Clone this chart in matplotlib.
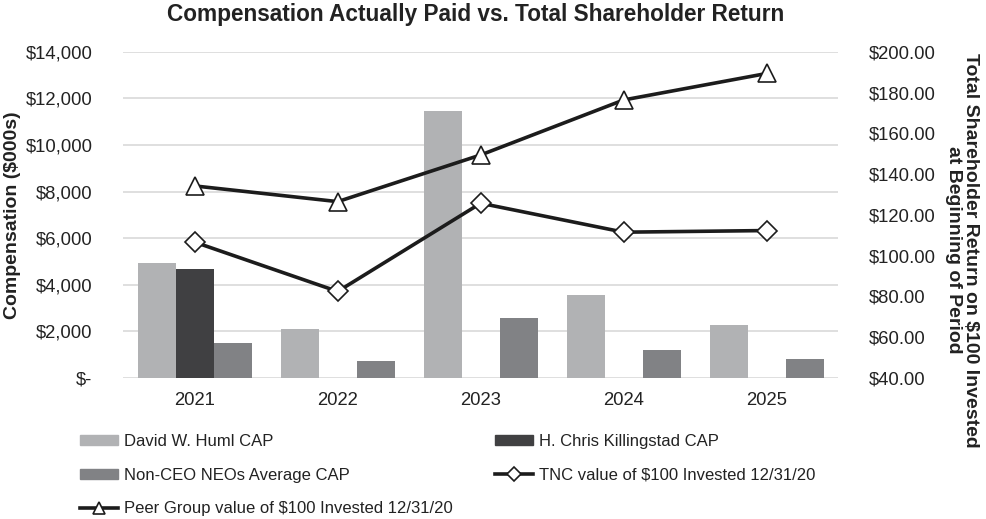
import matplotlib
matplotlib.use("Agg")
import matplotlib.pyplot as plt
import numpy as np
from matplotlib.patches import Patch
from matplotlib.lines import Line2D

plt.rcParams['font.family'] = ['Liberation Sans', 'DejaVu Sans']

years = ["2021", "2022", "2023", "2024", "2025"]
huml_cap = [4930, 2115, 11455, 3570, 2285]
killingstad_cap = [4670, 0, 0, 0, 0]
non_ceo_cap = [1500, 730, 2570, 1215, 815]
tnc_tsr = [106.6, 82.4, 125.7, 111.5, 112.3]
peer_tsr = [134.2, 126.5, 149.4, 176.4, 189.4]

left_ticks = [0, 2000, 4000, 6000, 8000, 10000, 12000, 14000]
left_labels = ["$-", "$2,000", "$4,000", "$6,000", "$8,000", "$10,000", "$12,000", "$14,000"]
right_ticks = [40, 60, 80, 100, 120, 140, 160, 180, 200]
right_labels = ["$%.2f" % v for v in right_ticks]

c_huml = "#b1b2b4"
c_kill = "#404042"
c_non = "#818285"
c_line = "#1c1c1c"
c_grid = "#d9d9d9"

fig = plt.figure(figsize=(9.86, 5.19), dpi=100)
ax = fig.add_axes([0.125, 0.272, 0.725, 0.628])
x = np.arange(len(years))
w = 0.266
ax.bar(x - w, huml_cap, w, color=c_huml, zorder=2)
ax.bar(x, killingstad_cap, w, color=c_kill, zorder=2)
ax.bar(x + w, non_ceo_cap, w, color=c_non, zorder=2)
ax.set_xlim(-0.5, 4.5)
ax.set_ylim(0, 14000)
ax.set_yticks(left_ticks)
ax.set_yticklabels(left_labels)
ax.set_xticks(x)
ax.set_xticklabels(years)
ax.yaxis.grid(True, color=c_grid, linewidth=1.2, zorder=0)
ax.set_axisbelow(True)
for s in ax.spines.values():
    s.set_visible(False)
ax.tick_params(axis='both', length=0, labelsize=13.3, colors="#222222")
ax.tick_params(axis='y', pad=22)
ax.tick_params(axis='x', pad=10)

ax2 = ax.twinx()
ax2.set_ylim(40, 200)
ax2.set_yticks(right_ticks)
ax2.set_yticklabels(right_labels)
for s in ax2.spines.values():
    s.set_visible(False)
ax2.tick_params(axis='y', length=0, labelsize=13.3, colors="#222222", pad=22)
ax2.plot(x, tnc_tsr, color=c_line, linewidth=2.6, marker='D', markersize=10,
         markerfacecolor='white', markeredgecolor=c_line, markeredgewidth=1.2, zorder=3)
ax2.plot(x, peer_tsr, color=c_line, linewidth=2.6, marker='^', markersize=13,
         markerfacecolor='white', markeredgecolor=c_line, markeredgewidth=1.2, zorder=3)

fig.text(0.013, 1 - 215 / 519, "Compensation ($000s)", rotation=90, ha='center', va='center',
         fontsize=14, fontweight='bold', color="#222222")
fig.text(0.976, 1 - 250 / 519, "Total Shareholder Return on $100 Invested\nat Beginning of Period",
         rotation=-90, ha='center', va='center', fontsize=14, fontweight='bold',
         color="#222222", linespacing=1.0)
fig.text(476 / 986, 1 - 14 / 519, "Compensation Actually Paid vs. Total Shareholder Return",
         ha='center', va='center', fontsize=16.3, fontweight='bold', color="#222222")

h_huml = Patch(color=c_huml)
h_kill = Patch(color=c_kill)
h_non = Patch(color=c_non)
h_tnc = Line2D([], [], color=c_line, linewidth=2.6, marker='D', markersize=7,
               markerfacecolor='white', markeredgecolor=c_line, markeredgewidth=1.2)
h_peer = Line2D([], [], color=c_line, linewidth=2.6, marker='^', markersize=8,
                markerfacecolor='white', markeredgecolor=c_line, markeredgewidth=1.2)
handles = [h_huml, h_non, h_peer, h_kill, h_tnc]
labels = ["David W. Huml CAP", "Non-CEO NEOs Average CAP",
          "Peer Group value of $100 Invested 12/31/20",
          "H. Chris Killingstad CAP", "TNC value of $100 Invested 12/31/20"]
leg = fig.legend(handles, labels, ncol=2, loc='upper left',
                 bbox_to_anchor=(80 / 986, 1 - 434 / 519), frameon=False,
                 prop={'size': 12}, labelcolor="#222222",
                 handlelength=2.3, handleheight=0.54, handletextpad=0.36,
                 labelspacing=1.12, columnspacing=2.5, borderpad=0, borderaxespad=0)

fig.savefig("out.png", dpi=100)
